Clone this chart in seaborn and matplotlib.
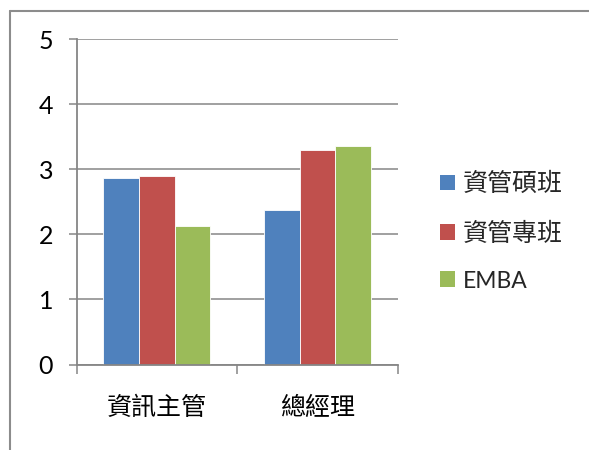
import matplotlib
matplotlib.use("Agg")
import matplotlib.pyplot as plt
from matplotlib.lines import Line2D
from matplotlib.patches import Patch
import seaborn as sns
import pandas as pd

categories = ["資訊主管", "總經理"]
series_names = ["資管碩班", "資管專班", "EMBA"]
series_values = {
    "資管碩班": [2.87, 2.37],
    "資管專班": [2.90, 3.29],
    "EMBA": [2.13, 3.36],
}
y_ticks = [0, 1, 2, 3, 4, 5]
colors = ["#4F81BD", "#C0504D", "#9BBB59"]

rows = []
for s in series_names:
    for c, v in zip(categories, series_values[s]):
        rows.append({"category": c, "series": s, "value": v})
df = pd.DataFrame(rows)

sns.set_theme(style="white")
plt.rcParams["font.family"] = ["Lato", "Noto Sans CJK TC", "DejaVu Sans"]

grid_color = "#868686"

fig = plt.figure(figsize=(5.89, 4.5), dpi=100)
ax = fig.add_axes([0.1302, 0.19, 0.6752 - 0.1302, 0.9133 - 0.19])

sns.barplot(
    data=df, x="category", y="value", hue="series",
    order=categories, hue_order=series_names,
    palette=colors, saturation=1, width=2 / 3,
    edgecolor="white", linewidth=0.6, legend=False, ax=ax,
)

ax.set_xlim(-0.5, 1.5)
ax.set_ylim(0, 5)
ax.set_yticks(y_ticks)
ax.set_yticklabels([str(t) for t in y_ticks], fontsize=18, color="black")
ax.set_xlabel("")
ax.set_ylabel("")
ax.set_xticks(range(len(categories)))
ax.set_xticklabels(categories, fontsize=18, family=["Noto Sans CJK TC"], color="black")
ax.set_xticks([-0.5, 0.5, 1.5], minor=True)

ax.set_axisbelow(True)
ax.yaxis.grid(True, color=grid_color, linewidth=1.1)
ax.xaxis.grid(False)

for side in ["top", "right"]:
    ax.spines[side].set_visible(False)
for side in ["left", "bottom"]:
    ax.spines[side].set_color(grid_color)
    ax.spines[side].set_linewidth(1.3)

ax.tick_params(axis="y", which="major", direction="out", length=6, width=1.1,
               color=grid_color, pad=11, left=True)
ax.tick_params(axis="x", which="major", length=0, pad=22, bottom=True)
ax.tick_params(axis="x", which="minor", direction="out", length=6.5, width=1.1,
               color=grid_color, bottom=True)

handles = [Patch(facecolor=c, edgecolor="none") for c in colors]
leg = fig.legend(
    handles, series_names, loc="center left",
    bbox_to_anchor=(440 / 589, 1 - 232 / 450), frameon=False,
    prop={"family": ["Lato", "Noto Sans CJK TC"], "size": 18},
    handlelength=0.6, handleheight=0.6, handletextpad=0.3,
    labelspacing=1.05, borderpad=0, borderaxespad=0,
)
for t in leg.get_texts():
    if t.get_text() == "EMBA":
        t.set_fontsize(16.5)

# outer chart frame, open on the right and bottom
fx = 9.5 / 589
fy = 1 - 11 / 450
fig.add_artist(Line2D([fx, fx], [0, fy], transform=fig.transFigure,
                      color="#8c8c8c", linewidth=1.5))
fig.add_artist(Line2D([fx, 1.0], [fy, fy], transform=fig.transFigure,
                      color="#8c8c8c", linewidth=1.5))

fig.savefig("out.png", dpi=100, facecolor="white")
